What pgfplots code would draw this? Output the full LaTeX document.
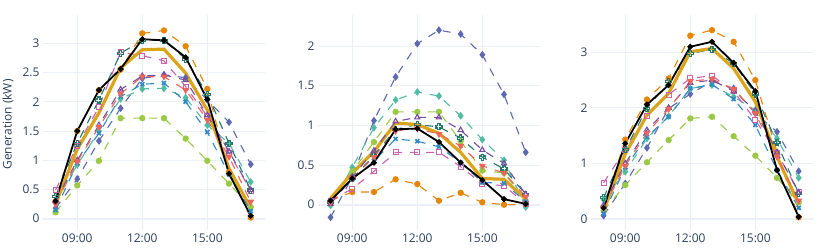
\documentclass[border=0pt]{standalone}
\usepackage{fontspec}
\setmainfont{Open Sans}
\usepackage{pgfplots}
\usepackage{pgfplotstable}
\pgfplotsset{compat=1.18}
\definecolor{cOr}{HTML}{E58606}
\definecolor{cBp}{HTML}{5D69B1}
\definecolor{cTe}{HTML}{52BCA3}
\definecolor{cGr}{HTML}{99C945}
\definecolor{cPk}{HTML}{CC61B0}
\definecolor{cDt}{HTML}{24796C}
\definecolor{cGo}{HTML}{DAA51B}
\definecolor{cBl}{HTML}{2F8AC4}
\definecolor{cPu}{HTML}{764E9F}
\definecolor{cRe}{HTML}{ED645A}
\definecolor{gridc}{HTML}{EBF0F8}
\definecolor{tickc}{HTML}{2A3F5F}

\pgfdeclareplotmark{crossopen}{%
  \pgfpathmoveto{\pgfpoint{0.35\pgfplotmarksize}{\pgfplotmarksize}}%
  \pgfpathlineto{\pgfpoint{0.35\pgfplotmarksize}{0.35\pgfplotmarksize}}%
  \pgfpathlineto{\pgfpoint{\pgfplotmarksize}{0.35\pgfplotmarksize}}%
  \pgfpathlineto{\pgfpoint{\pgfplotmarksize}{-0.35\pgfplotmarksize}}%
  \pgfpathlineto{\pgfpoint{0.35\pgfplotmarksize}{-0.35\pgfplotmarksize}}%
  \pgfpathlineto{\pgfpoint{0.35\pgfplotmarksize}{-\pgfplotmarksize}}%
  \pgfpathlineto{\pgfpoint{-0.35\pgfplotmarksize}{-\pgfplotmarksize}}%
  \pgfpathlineto{\pgfpoint{-0.35\pgfplotmarksize}{-0.35\pgfplotmarksize}}%
  \pgfpathlineto{\pgfpoint{-\pgfplotmarksize}{-0.35\pgfplotmarksize}}%
  \pgfpathlineto{\pgfpoint{-\pgfplotmarksize}{0.35\pgfplotmarksize}}%
  \pgfpathlineto{\pgfpoint{-0.35\pgfplotmarksize}{0.35\pgfplotmarksize}}%
  \pgfpathlineto{\pgfpoint{-0.35\pgfplotmarksize}{\pgfplotmarksize}}%
  \pgfpathclose\pgfusepathqstroke}

% columns: hour, orange, bluepurple, teal, green, pink, darkteal, gold, blue, purple, red, black
\pgfplotstableread{
h  or    bp    te    gr    pk    dt    go    bl    pu    re    bk
8  0.30  0.18  0.30  0.11  0.49  0.38  0.25  0.15  0.30  0.25  0.30
9  1.50  0.68  0.92  0.57  1.25  1.29  1.19  0.95  1.00  0.98  1.50
10 2.20  1.33  1.50  0.99  1.91  2.03  1.81  1.46  1.60  1.57  2.20
11 2.55  1.89  2.05  1.72  2.85  2.83  2.58  2.09  2.21  2.14  2.56
12 3.17  2.40  2.22  1.72  2.79  3.05  2.89  2.30  2.44  2.43  3.07
13 3.22  2.46  2.23  1.72  2.70  3.05  2.90  2.32  2.46  2.43  3.05
14 2.95  2.41  2.07  1.37  2.26  2.73  2.49  2.00  2.37  2.20  2.76
15 2.22  2.03  1.60  0.99  1.75  2.13  1.86  1.48  1.77  1.69  2.04
16 0.80  1.65  1.29  0.60  1.13  1.29  0.86  0.76  1.15  1.06  0.77
17 0.02  0.93  0.63  0.20  0.48  0.49  0.18  0.13  0.49  0.29  0.05
}\tA
\pgfplotstableread{
h  or    bp    te    gr    pk    dt    go    bl    pu    re    bk
8  0.05  -0.16 -0.01 0.02  0.05  0.03  0.08  0.05  0.01  0.03  0.05
9  0.16  0.35  0.47  0.42  0.20  0.33  0.40  0.32  0.35  0.33  0.33
10 0.16  1.06  0.97  0.79  0.42  0.62  0.67  0.55  0.68  0.60  0.53
11 0.32  1.61  1.32  1.17  0.66  0.95  1.03  0.83  1.05  0.93  0.95
12 0.26  2.03  1.42  1.17  0.66  1.01  1.01  0.80  1.10  0.96  0.96
13 0.05  2.20  1.37  1.17  0.66  0.98  0.90  0.73  1.10  0.89  0.79
14 0.15  2.15  1.12  0.80  0.48  0.84  0.66  0.53  0.94  0.74  0.53
15 0.03  1.89  0.82  0.43  0.26  0.60  0.33  0.28  0.69  0.49  0.31
16 0.00  1.39  0.56  0.40  0.24  0.45  0.32  0.27  0.52  0.40  0.07
17 0.00  0.66  -0.03 0.05  0.01  0.13  0.07  0.04  0.13  0.10  0.01
}\tB
\pgfplotstableread{
h  or    bp    te    gr    pk    dt    go    bl    pu    re    bk
8  0.20  0.06  0.35  0.15  0.65  0.38  0.15  0.10  0.25  0.20  0.20
9  1.43  0.64  0.85  0.61  1.25  1.25  1.17  0.93  1.00  0.96  1.36
10 2.15  1.28  1.45  1.02  1.85  1.99  1.87  1.48  1.60  1.55  2.06
11 2.53  1.99  1.85  1.42  2.24  2.47  2.26  1.84  2.00  1.98  2.41
12 3.30  2.25  2.35  1.81  2.53  2.98  3.01  2.35  2.45  2.48  3.10
13 3.40  2.48  2.41  1.84  2.58  3.05  3.07  2.42  2.50  2.52  3.19
14 3.19  2.35  2.20  1.49  2.30  2.80  2.71  2.16  2.30  2.34  2.81
15 2.50  1.90  1.96  1.14  1.78  2.25  2.11  1.69  1.95  1.90  2.30
16 1.20  1.57  1.45  0.74  1.19  1.37  1.12  0.88  1.20  1.12  0.88
17 0.03  0.86  0.74  0.30  0.49  0.46  0.27  0.20  0.48  0.33  0.04
}\tC

\pgfplotsset{
  dsh/.style={line width=1.1bp, dash pattern=on 8bp off 8bp, mark size=2.6bp, mark options={solid}},
  panel/.style={
    scale only axis, width=222bp, height=215bp,
    xmin=7.42, xmax=17.66,
    xtick={9,12,15}, xticklabels={09:00,12:00,15:00},
    grid=major, grid style={line width=1bp, color=gridc},
    axis line style={draw=none}, major tick length=0pt,
    tick label style={font=\fontsize{12}{14}\selectfont, text=tickc},
    /pgf/number format/assume math mode=true,
    extra y ticks={0}, extra y tick labels={},
    extra y tick style={grid style={line width=2bp, color=gridc}},
  }
}
\newcommand{\allseries}[1]{%
  \addplot[dsh, cOr, mark=*] table[x=h,y=or]{#1};
  \addplot[dsh, cBp, mark=diamond*, mark size=3bp] table[x=h,y=bp]{#1};
  \addplot[dsh, cTe, mark=diamond*, mark size=3bp] table[x=h,y=te]{#1};
  \addplot[dsh, cGr, mark=*] table[x=h,y=gr]{#1};
  \addplot[dsh, cPk, mark=square, mark size=2.5bp, mark options={solid, line width=1.1bp}] table[x=h,y=pk]{#1};
  \addplot[dsh, cDt, mark=crossopen, mark size=3bp, mark options={solid, line width=1.1bp}] table[x=h,y=dt]{#1};
  \addplot[cGo, line width=3.2bp, mark=none] table[x=h,y=go]{#1};
  \addplot[dsh, cBl, mark=x, mark size=2.8bp, mark options={solid, line width=1.7bp}] table[x=h,y=bl]{#1};
  \addplot[dsh, cPu, mark=triangle, mark size=3bp, mark options={solid, line width=1.1bp}] table[x=h,y=pu]{#1};
  \addplot[dsh, cRe, mark=triangle*, mark size=3bp, mark options={solid, rotate=180}] table[x=h,y=re]{#1};
  \addplot[black, line width=1.8bp, mark=*, mark size=1.9bp] table[x=h,y=bk]{#1};
}

\begin{document}
\begin{tikzpicture}
\path[use as bounding box] (0,0) rectangle (830bp,249bp);
\begin{axis}[panel, at={(43bp,19bp)}, anchor=south west,
  ymin=-0.193, ymax=3.484, ytick={0,0.5,1,1.5,2,2.5,3},
  ylabel={Generation (kW)},
  ylabel style={at={(axis description cs:-0.158,0.491)}, anchor=center, font=\fontsize{12}{14}\selectfont, text=tickc}]
\allseries{\tA}
\end{axis}
\begin{axis}[panel, at={(318bp,19bp)}, anchor=south west,
  ymin=-0.319, ymax=2.391, ytick={0,0.5,1,1.5,2}]
\allseries{\tB}
\end{axis}
\begin{axis}[panel, at={(591bp,19bp)}, anchor=south west,
  ymin=-0.198, ymax=3.672, ytick={0,1,2,3}]
\allseries{\tC}
\end{axis}
\end{tikzpicture}
\end{document}
